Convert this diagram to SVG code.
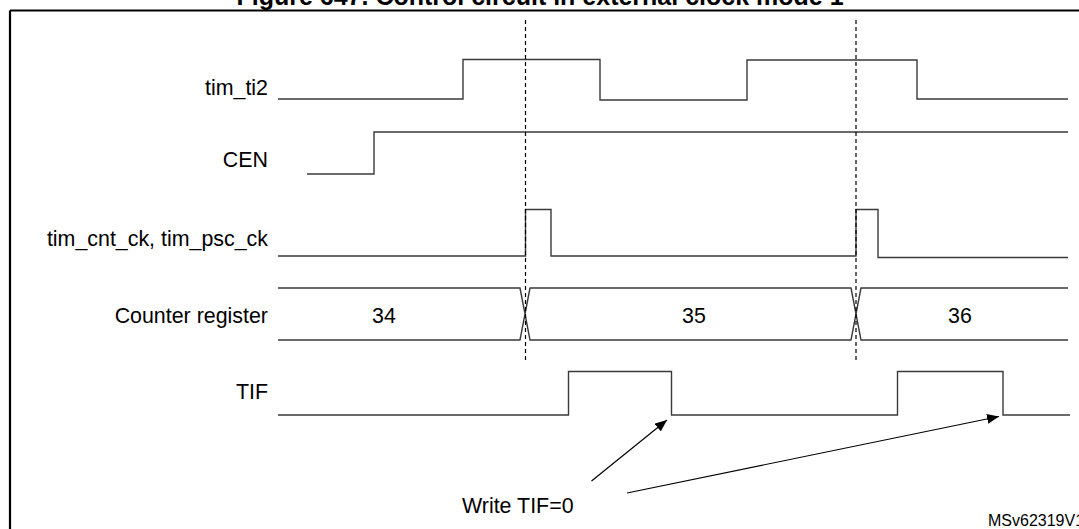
<svg xmlns="http://www.w3.org/2000/svg" width="1079" height="529" viewBox="0 0 1079 529">
  <style>
    .lbl { font-family: "Liberation Sans", Arial, sans-serif; font-size: 21.4px; fill: #000; }
    .title { font-family: "Liberation Sans", Arial, sans-serif; font-size: 25px; font-weight: bold; fill: #000; }
    .small { font-family: "Liberation Sans", Arial, sans-serif; font-size: 16px; fill: #000; }
    .wave { fill: none; stroke: #3a3a3a; stroke-width: 1.4; }
    .frame { fill: none; stroke: #000; stroke-width: 2.2; }
    .dash { fill: none; stroke: #000; stroke-width: 1.2; stroke-dasharray: 4 3; }
    .arr { fill: none; stroke: #000; stroke-width: 1.2; }
  </style>
  <defs>
    <marker id="ah" viewBox="0 0 12 10" refX="12" refY="5" markerWidth="12" markerHeight="10" markerUnits="userSpaceOnUse" orient="auto">
      <path d="M0,0 L12,5 L0,10 Z" fill="#000"/>
    </marker>
  </defs>
  <rect width="1079" height="529" fill="#fff"/>

  <g id="title">
    <text class="title" x="540" y="4.5" text-anchor="middle">Figure 647. Control circuit in external clock mode 1</text>
  </g>
  <g id="frame">
    <path class="frame" d="M10,10.5 H1079 M10,10.5 V529"/>
  </g>

  <g id="tim_ti2">
    <text class="lbl" x="268" y="95" text-anchor="end">tim_ti2</text>
    <path class="wave" d="M278,99 H463 V59.5 H600 V100 H747 V60 H917 V99 H1068"/>
  </g>

  <g id="cen">
    <text class="lbl" x="268" y="167" text-anchor="end">CEN</text>
    <path class="wave" d="M307,174 H374 V132 H1068"/>
  </g>

  <g id="tim_cnt_ck">
    <text class="lbl" x="268" y="246" text-anchor="end">tim_cnt_ck, tim_psc_ck</text>
    <path class="wave" d="M278,256 H525.5 V209.5 H551 V256 H856 V209.5 H878 V257.5 H1068"/>
  </g>

  <g id="counter_register">
    <text class="lbl" x="268" y="323" text-anchor="end">Counter register</text>
    <path class="wave" d="M278,288 H520 L530,340 H851 L861,288 H1068 M278,340 H520 L530,288 H851 L861,340 H1068"/>
    <text class="lbl" x="384" y="323" text-anchor="middle">34</text>
    <text class="lbl" x="694" y="323" text-anchor="middle">35</text>
    <text class="lbl" x="960" y="323" text-anchor="middle">36</text>
  </g>

  <g id="tif">
    <text class="lbl" x="268" y="399" text-anchor="end">TIF</text>
    <path class="wave" d="M278,415 H568.5 V371.5 H671.5 V415 H897.5 V371.5 H1003 V415 H1070"/>
  </g>

  <g id="write_tif">
    <text class="lbl" x="462" y="513">Write TIF=0</text>
  </g>

  <g id="connectors">
    <line class="dash" x1="525.5" y1="20" x2="525.5" y2="363"/>
    <line class="dash" x1="856" y1="20" x2="856" y2="363"/>
    <line class="arr" x1="591.5" y1="481" x2="667" y2="420" marker-end="url(#ah)"/>
    <line class="arr" x1="627" y1="493" x2="999" y2="416.5" marker-end="url(#ah)"/>
  </g>

  <g id="ref">
    <text class="small" x="988" y="526">MSv62319V1</text>
  </g>
</svg>
